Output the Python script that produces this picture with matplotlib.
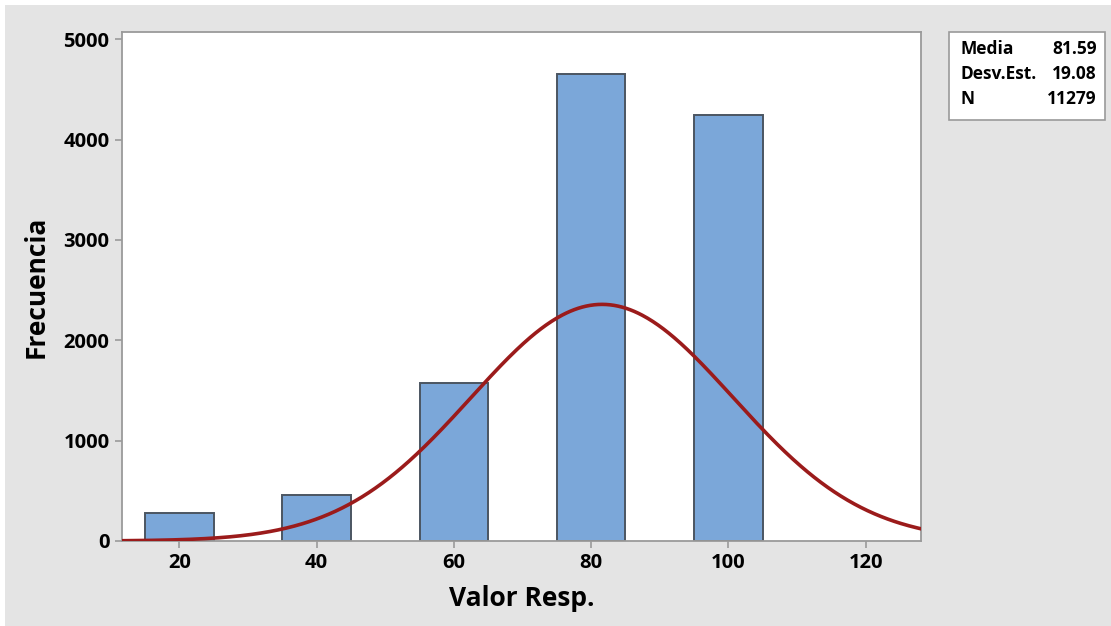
import matplotlib
matplotlib.use("Agg")
import matplotlib.pyplot as plt
from matplotlib.patches import Rectangle
import numpy as np

plt.rcParams["font.family"] = ["Open Sans", "DejaVu Sans"]

# histogram bins (width 10) and counts
bin_centers = [20, 40, 60, 80, 100]
counts = [282, 458, 1575, 4651, 4250]
bin_width = 10

# summary statistics shown in the box and used for the fitted curve
media = 81.59
desv_est = 19.08
n_total = 11279

x_ticks = [20, 40, 60, 80, 100, 120]
y_ticks = [0, 1000, 2000, 3000, 4000, 5000]

bg = "#e4e4e4"
bar_color = "#7ba7d9"
bar_edge = "#4b5561"
curve_color = "#9b1b1b"
spine_color = "#9a9a9a"
weight = "bold"

fig = plt.figure(figsize=(11.11, 6.26), dpi=100)
fig.patch.set_facecolor("white")
fig.patches.append(Rectangle((5 / 1111, -0.01), 1.01, 1.01 - 5 / 626, transform=fig.transFigure,
                             facecolor=bg, edgecolor="none", zorder=-10))

ax = fig.add_axes([122 / 1111, 85 / 626, (921 - 122) / 1111, (541 - 32) / 626])
ax.set_facecolor("white")

ax.bar(bin_centers, counts, width=bin_width, color=bar_color,
       edgecolor=bar_edge, linewidth=1.4, zorder=2)

# normal fit scaled to the histogram
xs = np.linspace(11.65, 128.05, 600)
pdf = np.exp(-0.5 * ((xs - media) / desv_est) ** 2) / (desv_est * np.sqrt(2 * np.pi))
ax.plot(xs, n_total * bin_width * pdf, color=curve_color, linewidth=2.6, zorder=3)

ax.set_xlim(11.65, 128.05)
ax.set_ylim(0, 5073)
ax.set_xticks(x_ticks)
ax.set_yticks(y_ticks)

for s in ax.spines.values():
    s.set_color(spine_color)
    s.set_linewidth(1.3)
ax.tick_params(axis="both", direction="out", length=5, width=1.2, color=spine_color,
               labelsize=14.5, labelcolor="black", pad=4)
for lbl in ax.get_xticklabels() + ax.get_yticklabels():
    lbl.set_fontweight(weight)

ax.set_xlabel("Valor Resp.", fontsize=19, fontweight=weight, labelpad=8)
ax.set_ylabel("Frecuencia", fontsize=19, fontweight=weight, labelpad=10)

# statistics box
fig.patches.append(Rectangle((949 / 1111, 1 - 120 / 626), (1105 - 949) / 1111, 88 / 626,
                             transform=fig.transFigure, facecolor="white",
                             edgecolor="#9a9a9a", linewidth=1.2, zorder=5))
rows = [("Media", f"{media:.2f}"), ("Desv.Est.", f"{desv_est:.2f}"), ("N", f"{n_total}")]
for i, (lab, val) in enumerate(rows):
    yy = 1 - (49 + i * 25) / 626
    fig.text(960 / 1111, yy, lab, ha="left", va="center", fontsize=12.5,
             fontweight=weight, zorder=6)
    fig.text(1097 / 1111, yy, val, ha="right", va="center", fontsize=12.5,
             fontweight=weight, zorder=6)

fig.savefig("out.png", dpi=100, facecolor=fig.get_facecolor())
